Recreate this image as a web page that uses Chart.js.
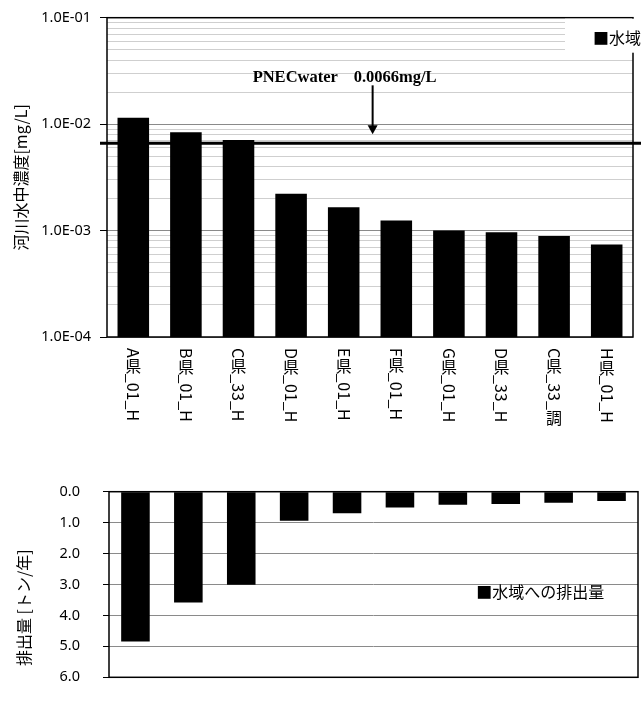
<!DOCTYPE html>
<html lang="ja">
<head>
<meta charset="utf-8">
<title>河川水中濃度と水域への排出量</title>
<script src="https://cdn.jsdelivr.net/npm/chart.js@4.4.1/dist/chart.umd.min.js"></script>
<style>
  html, body { margin: 0; padding: 0; background: #fff; }
  #wrap { position: relative; width: 641px; height: 709px; overflow: hidden; }
  #concChart { position: absolute; left: 0; top: 0; }
  #releaseChart { position: absolute; left: 0; top: 460px; }
</style>
</head>
<body>
<div id="wrap">
  <canvas id="concChart" width="641" height="460"></canvas>
  <canvas id="releaseChart" width="641" height="249"></canvas>
</div>
<script>
// data
const sites = ['A県_01_H', 'B県_01_H', 'C県_33_H', 'D県_01_H', 'E県_01_H',
               'F県_01_H', 'G県_01_H', 'D県_33_H', 'C県_33_調', 'H県_01_H'];
const concValues = [0.0115, 0.0084, 0.0071, 0.00222, 0.00166,
                    0.00124, 0.00100, 0.000965, 0.00089, 0.00074];
const releaseValues = [4.84, 3.58, 3.01, 0.94, 0.70, 0.51, 0.42, 0.40, 0.36, 0.30];

const concDecades = [1e-4, 1e-3, 1e-2, 1e-1];
const concTickLabels = ['1.0E-04', '1.0E-03', '1.0E-02', '1.0E-01'];
const releaseTicks = [0, 1, 2, 3, 4, 5, 6];
const releaseTickLabels = ['0.0', '1.0', '2.0', '3.0', '4.0', '5.0', '6.0'];

const pnecValue = 0.0066;
const pnecLabel = ['PNECwater', '0.0066mg/L'];
const seriesLabel = '水域への排出量';
const concTitle = '河川水中濃度[mg/L]';
const releaseTitle = '排出量 [トン/年]';

const FONT = "'Noto Sans CJK JP', 'Noto Sans', sans-serif";
const TICK_FONT = "'Noto Sans', sans-serif";
Chart.defaults.color = '#000';
Chart.defaults.font.family = FONT;

const isDecade = v => concDecades.some(d => Math.abs(d - v) / d < 1e-6);

// minor ticks 2..9 inside each decade, for the light gridlines
const concGridValues = [];
concDecades.forEach((d, i) => {
    concGridValues.push(d);
    if (i < concDecades.length - 1) {
        for (let m = 2; m <= 9; m++) concGridValues.push(+(m * d).toPrecision(3));
    }
});

// draws the black box round the plot area
const frame = {
    id: 'frame',
    afterDatasetsDraw(chart) {
        const { ctx, chartArea: a } = chart;
        ctx.save();
        ctx.strokeStyle = '#000';
        ctx.lineWidth = 1.5;
        ctx.strokeRect(a.left, a.top, a.right - a.left, a.bottom - a.top);
        ctx.restore();
    }
};

// PNEC line, arrow and label
const pnecMark = {
    id: 'pnecMark',
    afterDatasetsDraw(chart) {
        const { ctx, chartArea: a } = chart;
        const y = chart.scales.y.getPixelForValue(pnecValue);
        ctx.save();
        ctx.strokeStyle = '#000';
        ctx.lineWidth = 3;
        ctx.beginPath();
        ctx.moveTo(a.left - 7, y);
        ctx.lineTo(chart.width, y);
        ctx.stroke();

        const ax = a.left + (a.right - a.left) * 0.505;
        ctx.lineWidth = 2;
        ctx.beginPath();
        ctx.moveTo(ax, y - 58);
        ctx.lineTo(ax, y - 16);
        ctx.stroke();
        ctx.fillStyle = '#000';
        ctx.beginPath();
        ctx.moveTo(ax - 5, y - 18);
        ctx.lineTo(ax + 5, y - 18);
        ctx.lineTo(ax, y - 9);
        ctx.closePath();
        ctx.fill();

        ctx.font = "bold 16.5px 'Liberation Serif', serif";
        ctx.textAlign = 'left';
        ctx.textBaseline = 'middle';
        ctx.fillText(pnecLabel[0], ax - 120, y - 66);
        ctx.fillText(pnecLabel[1], ax - 19, y - 66);
        ctx.restore();
    }
};

// vertical category labels: CJK upright, latin runs turned 90 degrees
const verticalLabels = {
    id: 'verticalLabels',
    afterDraw(chart) {
        const { ctx, chartArea: a } = chart;
        const xs = chart.scales.x;
        const size = 16;
        ctx.save();
        ctx.fillStyle = '#000';
        ctx.font = size + 'px ' + FONT;
        sites.forEach((label, i) => {
            const x = xs.getPixelForValue(i);
            let y = a.bottom + 11;
            const runs = label.match(/[\u3000-\u9fff]+|[^\u3000-\u9fff]+/g);
            runs.forEach(run => {
                if (/[\u3000-\u9fff]/.test(run)) {
                    for (const ch of run) {
                        ctx.textAlign = 'center';
                        ctx.textBaseline = 'middle';
                        ctx.fillText(ch, x, y + size / 2);
                        y += size;
                    }
                } else {
                    ctx.save();
                    ctx.translate(x, y);
                    ctx.rotate(Math.PI / 2);
                    ctx.textAlign = 'left';
                    ctx.textBaseline = 'middle';
                    ctx.fillText(run, 0, 0);
                    ctx.restore();
                    y += ctx.measureText(run).width;
                }
            });
        });
        ctx.restore();
    }
};

// legend of the upper chart: white box at the top right, cut by the page edge
const topLegend = {
    id: 'topLegend',
    afterDraw(chart) {
        const { ctx, chartArea: a } = chart;
        ctx.save();
        ctx.fillStyle = '#fff';
        ctx.fillRect(a.right - 68, a.top + 1, 120, 34);
        ctx.fillStyle = '#000';
        ctx.font = '16px ' + FONT;
        ctx.textAlign = 'left';
        ctx.textBaseline = 'middle';
        ctx.fillText('■' + seriesLabel, a.right - 40, a.top + 20);
        ctx.restore();
    }
};

// lower chart: legend inside the plot and the axis title, which sits below the middle
const bottomLabels = {
    id: 'bottomLabels',
    afterDraw(chart) {
        const { ctx, chartArea: a } = chart;
        const y = chart.scales.y.getPixelForValue(3) + 7;
        ctx.save();
        ctx.fillStyle = '#000';
        ctx.font = '16px ' + FONT;
        ctx.textAlign = 'left';
        ctx.textBaseline = 'middle';
        ctx.fillText('■' + seriesLabel, a.left + (a.right - a.left) * 0.694, y);

        ctx.translate(24, a.top + (a.bottom - a.top) * 0.625);
        ctx.rotate(-Math.PI / 2);
        ctx.textAlign = 'center';
        ctx.fillText(releaseTitle, 0, 0);
        ctx.restore();
    }
};

new Chart(document.getElementById('concChart'), {
    type: 'bar',
    data: {
        labels: sites,
        datasets: [{
            label: seriesLabel,
            data: concValues,
            backgroundColor: '#000',
            borderWidth: 0,
            barPercentage: 0.6,
            categoryPercentage: 1
        }]
    },
    options: {
        responsive: false,
        animation: false,
        layout: { padding: { top: 17, right: 8, bottom: 0, left: 0 } },
        plugins: { legend: { display: false }, tooltip: { enabled: false } },
        scales: {
            x: {
                grid: { display: false },
                border: { display: false },
                ticks: { display: false },
                afterFit: s => { s.height = 123; }
            },
            y: {
                type: 'logarithmic',
                min: 1e-4,
                max: 1e-1,
                border: { display: false },
                afterBuildTicks: s => {
                    s.ticks = concGridValues.map(v => ({ value: v, major: isDecade(v) }));
                },
                afterFit: s => { s.width = 107; },
                grid: {
                    color: c => (c.tick && isDecade(c.tick.value)) ? '#8a8a8a' : '#cfcfcf',
                    tickColor: c => (c.tick && isDecade(c.tick.value)) ? '#000' : 'rgba(0,0,0,0)',
                    tickLength: 7,
                    lineWidth: 1
                },
                ticks: {
                    autoSkip: false,
                    padding: 9,
                    font: { size: 14.5, family: TICK_FONT },
                    callback: v => {
                        const i = concDecades.findIndex(d => Math.abs(d - v) / d < 1e-6);
                        return i >= 0 ? concTickLabels[i] : '';
                    }
                },
                title: {
                    display: true,
                    text: concTitle,
                    font: { size: 16 },
                    padding: { top: 11, bottom: 0 }
                }
            }
        }
    },
    plugins: [frame, pnecMark, verticalLabels, topLegend]
});

new Chart(document.getElementById('releaseChart'), {
    type: 'bar',
    data: {
        labels: sites,
        datasets: [{
            label: seriesLabel,
            data: releaseValues,
            backgroundColor: '#000',
            borderWidth: 0,
            barPercentage: 0.54,
            categoryPercentage: 1
        }]
    },
    options: {
        responsive: false,
        animation: false,
        layout: { padding: { top: 21, right: 3, bottom: 6, left: 0 } },
        plugins: { legend: { display: false }, tooltip: { enabled: false } },
        scales: {
            x: { display: false },
            y: {
                reverse: true,
                min: 0,
                max: 6,
                border: { display: false },
                afterBuildTicks: s => {
                    s.ticks = releaseTicks.map(v => ({ value: v }));
                },
                afterFit: s => { s.width = 109; },
                grid: {
                    color: '#8a8a8a',
                    tickColor: '#000',
                    tickLength: 6
                },
                ticks: {
                    autoSkip: false,
                    padding: 23,
                    font: { size: 14.5, family: TICK_FONT },
                    callback: (v, i) => releaseTickLabels[i]
                }
            }
        }
    },
    plugins: [frame, bottomLabels]
});
</script>
</body>
</html>
